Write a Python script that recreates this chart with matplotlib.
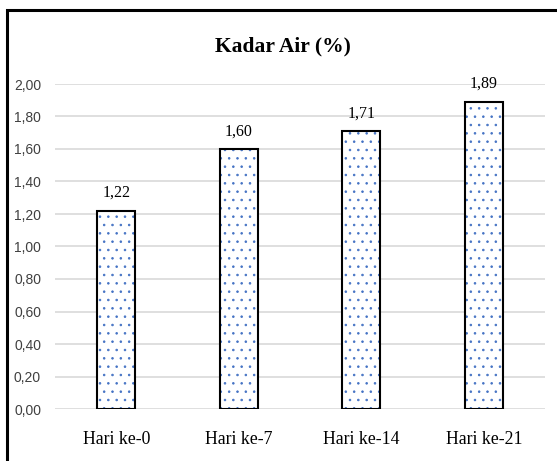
import matplotlib
matplotlib.use('Agg')
import matplotlib.pyplot as plt
from matplotlib.patches import Rectangle
from matplotlib import font_manager

# data
hari = ['Hari ke-0', 'Hari ke-7', 'Hari ke-14', 'Hari ke-21']
kadar_air = [1.22, 1.60, 1.71, 1.89]
yticks = [0.0, 0.2, 0.4, 0.6, 0.8, 1.0, 1.2, 1.4, 1.6, 1.8, 2.0]

names = set(f.name for f in font_manager.fontManager.ttflist)
narrow = 'Liberation Sans Narrow' if 'Liberation Sans Narrow' in names else 'Liberation Sans'
serif = 'Liberation Serif'

plt.rcParams['hatch.linewidth'] = 0.6

fig = plt.figure(figsize=(5.57, 4.61), dpi=100)
ax = fig.add_axes([55/557, 52/461, 490/557, 325/461])

x = range(len(hari))
ax.bar(x, kadar_air, width=0.31, color='white', edgecolor='#4472c4',
       hatch='..', linewidth=0, zorder=2)
ax.bar(x, kadar_air, width=0.31, fill=False, edgecolor='black',
       linewidth=1.5, zorder=3)

for i, v in enumerate(kadar_air):
    ax.text(i, v + 0.06, ('%.2f' % v).replace('.', ','), ha='center', va='bottom',
            fontsize=11.5, family=serif)

ax.set_ylim(0, 2.0)
ax.set_xlim(-0.5, 3.5)
ax.set_yticks(yticks)
ax.set_yticklabels([('%.2f' % t).replace('.', ',') for t in yticks],
                   family=narrow, fontsize=10, color='#404040')
ax.set_xticks(list(x))
ax.set_xticklabels(hari, family=serif, fontsize=12.8)
ax.tick_params(length=0)
ax.tick_params(axis='x', pad=16)
ax.tick_params(axis='y', pad=10)
ax.yaxis.grid(True, color='#d9d9d9', linewidth=1.2, zorder=0)
ax.set_axisbelow(True)
for s in ax.spines.values():
    s.set_visible(False)

fig.text(283/557, 1 - 46/461, 'Kadar Air (%)', ha='center', va='center',
         fontsize=15.5, fontweight='bold', family=serif)

fig.patches.append(Rectangle((7/557, -0.1), 1.1, 1 - 10/461 + 0.1,
                             transform=fig.transFigure, fill=False,
                             edgecolor='black', linewidth=2.2))

fig.savefig('out.png', dpi=100)
